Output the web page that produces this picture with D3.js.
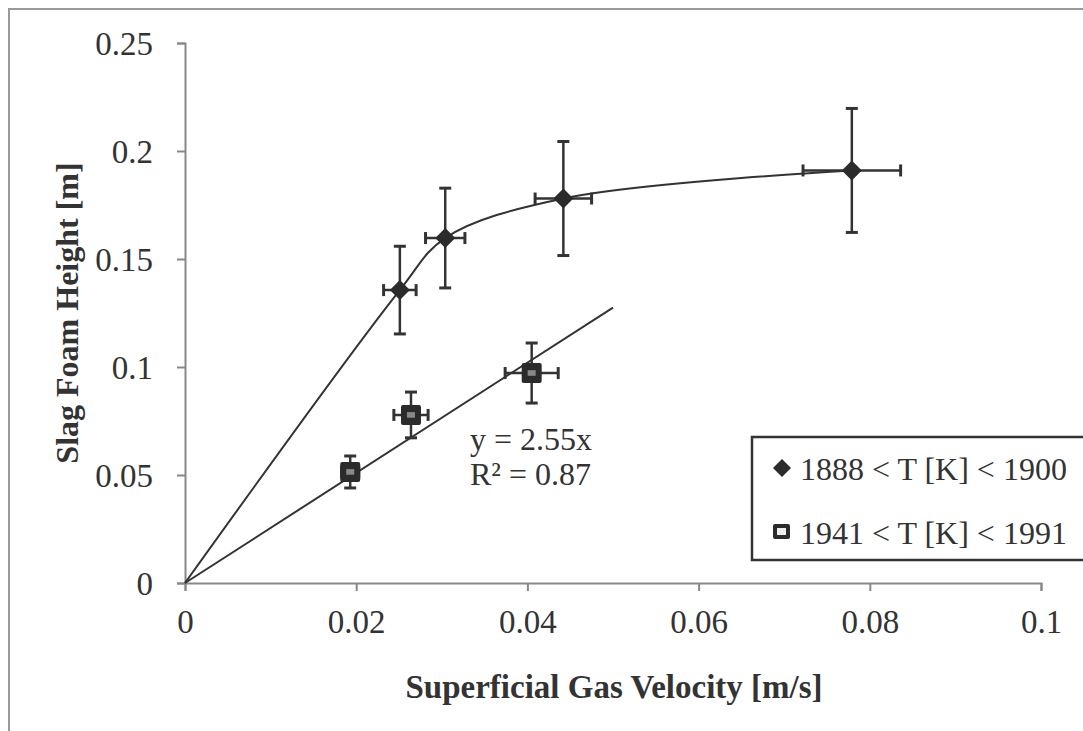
<!DOCTYPE html>
<html>
<head>
<meta charset="utf-8">
<script src="https://cdn.jsdelivr.net/npm/d3@7"></script>
<style>
  body { margin: 0; background: #fff; }
  text { font-family: "Liberation Serif", "Times New Roman", serif; fill: #333; }
</style>
</head>
<body>
<div id="grafico"></div>
<script>
// Serie 1: 1888 < T [K] < 1900 (losangos)
const serie1X = [0.0251, 0.0304, 0.0442, 0.0779];
const serie1Y = [0.1356, 0.1597, 0.1780, 0.1910];
const serie1ErroX = [0.0019, 0.0023, 0.0033, 0.0057];
const serie1ErroY = [0.0203, 0.0231, 0.0264, 0.0287];

// Serie 2: 1941 < T [K] < 1991 (quadrados)
const serie2X = [0.0193, 0.0264, 0.0405];
const serie2Y = [0.0514, 0.0778, 0.0972];
const serie2ErroX = [0.0010, 0.0020, 0.0031];
const serie2ErroY = [0.0074, 0.0106, 0.0139];

// Curva suavizada da serie 1 (passa pela origem)
const curvaX = [0, 0.0251, 0.0304, 0.0442, 0.0779];
const curvaY = [0, 0.1356, 0.1597, 0.1780, 0.1910];

// Linha de tendencia da serie 2: y = 2.55x
const tendenciaX = [0, 0.05];
const inclinacao = 2.55;

const ticksX = [0, 0.02, 0.04, 0.06, 0.08, 0.1];
const ticksY = [0, 0.05, 0.1, 0.15, 0.2, 0.25];
const legendas = ["1888 < T [K] < 1900", "1941 < T [K] < 1991"];

const largura = 1083, altura = 731;
const margem = {top: 43, right: 42, bottom: 148, left: 185};

const svg = d3.select("#grafico").append("svg")
    .attr("width", largura)
    .attr("height", altura);

// Moldura externa do gráfico
svg.append("rect")
    .attr("x", 9).attr("y", 9)
    .attr("width", largura + 20).attr("height", altura + 20)
    .attr("fill", "none")
    .attr("stroke", "#999")
    .attr("stroke-width", 2);

const eixoX = d3.scaleLinear().domain([0, 0.1]).range([margem.left, largura - margem.right]);
const eixoY = d3.scaleLinear().domain([0, 0.25]).range([altura - margem.bottom, margem.top]);

// Eixos
const formato = d => d === 0 ? "0" : String(+d.toFixed(2));
const gx = svg.append("g")
    .attr("transform", `translate(0,${eixoY(0)})`)
    .call(d3.axisBottom(eixoX).tickValues(ticksX).tickSize(8).tickPadding(19).tickFormat(formato));
const gy = svg.append("g")
    .attr("transform", `translate(${eixoX(0)},0)`)
    .call(d3.axisLeft(eixoY).tickValues(ticksY).tickSize(8).tickPadding(24).tickFormat(formato));

[gx, gy].forEach(g => {
    g.select(".domain").attr("stroke", "#888").attr("stroke-width", 2);
    g.selectAll(".tick line").attr("stroke", "#888").attr("stroke-width", 2);
    g.selectAll(".tick text")
        .attr("font-family", "Liberation Serif, Times New Roman, serif")
        .attr("font-size", 33)
        .attr("fill", "#3a3a3a");
});
gy.selectAll(".tick text").attr("dy", "0.34em");

// Títulos dos eixos
svg.append("text")
    .attr("x", 614).attr("y", 698)
    .attr("text-anchor", "middle")
    .attr("font-size", 33)
    .attr("font-weight", "bold")
    .text("Superficial Gas Velocity [m/s]");

svg.append("text")
    .attr("transform", `translate(78,${(eixoY(0) + eixoY(0.25)) / 2}) rotate(-90)`)
    .attr("text-anchor", "middle")
    .attr("font-size", 32)
    .attr("font-weight", "bold")
    .text("Slag Foam Height [m]");

// Curva da serie 1
const linha = d3.line()
    .x(d => eixoX(d[0]))
    .y(d => eixoY(d[1]))
    .curve(d3.curveCatmullRom.alpha(0.5));

svg.append("path")
    .datum(curvaX.map((x, i) => [x, curvaY[i]]))
    .attr("d", linha)
    .attr("fill", "none")
    .attr("stroke", "#333")
    .attr("stroke-width", 2);

// Linha de tendência da serie 2
svg.append("path")
    .datum(tendenciaX.map(x => [x, inclinacao * x]))
    .attr("d", d3.line().x(d => eixoX(d[0])).y(d => eixoY(d[1])))
    .attr("fill", "none")
    .attr("stroke", "#333")
    .attr("stroke-width", 2);

// Barras de erro
function desenharErros(xs, ys, ex, ey) {
    const g = svg.append("g").attr("stroke", "#333").attr("stroke-width", 2.5);
    xs.forEach((x, i) => {
        const cx = eixoX(x), cy = eixoY(ys[i]);
        const y1 = eixoY(ys[i] + ey[i]), y2 = eixoY(ys[i] - ey[i]);
        const x1 = eixoX(x - ex[i]), x2 = eixoX(x + ex[i]);
        g.append("line").attr("x1", cx).attr("x2", cx).attr("y1", y1).attr("y2", y2);
        g.append("line").attr("x1", cx - 6).attr("x2", cx + 6).attr("y1", y1).attr("y2", y1).attr("stroke-width", 3);
        g.append("line").attr("x1", cx - 6).attr("x2", cx + 6).attr("y1", y2).attr("y2", y2).attr("stroke-width", 3);
        g.append("line").attr("x1", x1).attr("x2", x2).attr("y1", cy).attr("y2", cy);
        g.append("line").attr("x1", x1).attr("x2", x1).attr("y1", cy - 6).attr("y2", cy + 6).attr("stroke-width", 3);
        g.append("line").attr("x1", x2).attr("x2", x2).attr("y1", cy - 6).attr("y2", cy + 6).attr("stroke-width", 3);
    });
}
desenharErros(serie1X, serie1Y, serie1ErroX, serie1ErroY);
desenharErros(serie2X, serie2Y, serie2ErroX, serie2ErroY);

// Marcadores
function losango(g, cx, cy, r) {
    g.append("path")
        .attr("d", `M${cx},${cy - r}L${cx + r},${cy}L${cx},${cy + r}L${cx - r},${cy}Z`)
        .attr("fill", "#2b2b2b");
}
function quadrado(g, cx, cy, s) {
    g.append("rect")
        .attr("x", cx - s / 2).attr("y", cy - s / 2)
        .attr("width", s).attr("height", s).attr("rx", 2)
        .attr("fill", "#2b2b2b");
    g.append("rect")
        .attr("x", cx - s / 5).attr("y", cy - s / 7)
        .attr("width", s * 0.4).attr("height", s * 0.28)
        .attr("fill", "#888");
}
const marcadores = svg.append("g");
serie1X.forEach((x, i) => losango(marcadores, eixoX(x), eixoY(serie1Y[i]), 10));
serie2X.forEach((x, i) => quadrado(marcadores, eixoX(x), eixoY(serie2Y[i]), 20));

// Equação da tendência
svg.append("text").attr("x", 470).attr("y", 450).attr("font-size", 32).text("y = 2.55x");
svg.append("text").attr("x", 470).attr("y", 485).attr("font-size", 32).text("R² = 0.87");

// Legenda
const legenda = svg.append("g");
legenda.append("rect")
    .attr("x", 752).attr("y", 437)
    .attr("width", 360).attr("height", 123)
    .attr("fill", "#fff")
    .attr("stroke", "#333")
    .attr("stroke-width", 2.5);
legendas.forEach((t, i) => {
    const yBase = 480 + i * 64;
    legenda.append("text").attr("x", 800).attr("y", yBase).attr("font-size", 32).text(t);
});
losango(legenda, 782, 468, 9);
legenda.append("rect").attr("x", 773).attr("y", 524).attr("width", 17).attr("height", 15).attr("rx", 2).attr("fill", "#2b2b2b");
legenda.append("rect").attr("x", 777).attr("y", 528).attr("width", 9).attr("height", 7).attr("fill", "#eee");
</script>
</body>
</html>
